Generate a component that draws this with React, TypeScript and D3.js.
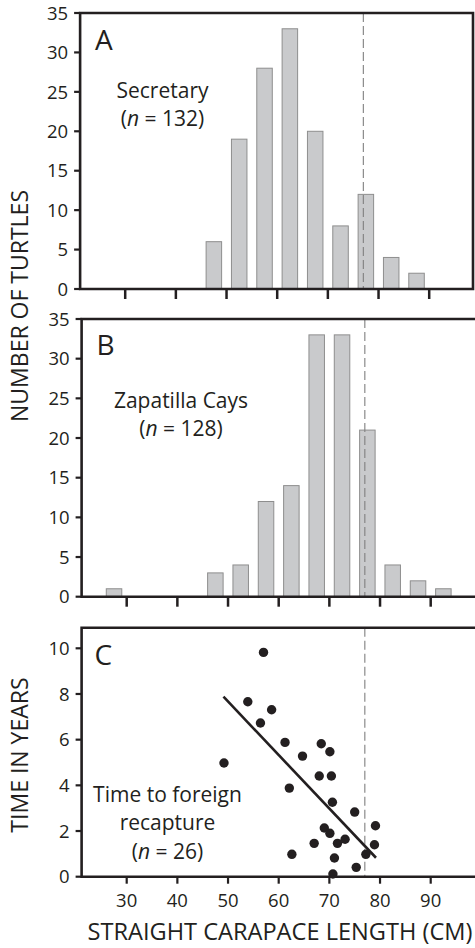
import * as d3 from 'd3';
import * as React from 'react';

const W = 475;
const H = 948;

// 5 cm size classes (bin centres)
const sizeBins = [27.5, 32.5, 37.5, 42.5, 47.5, 52.5, 57.5, 62.5, 67.5, 72.5, 77.5, 82.5, 87.5, 92.5];
const secretaryCounts = [0, 0, 0, 0, 6, 19, 28, 33, 20, 8, 12, 4, 2, 0];
const zapatillaCounts = [1, 0, 0, 0, 3, 4, 12, 14, 33, 33, 21, 4, 2, 1];

const lengthTicks = [30, 40, 50, 60, 70, 80, 90];
const countTicks = [0, 5, 10, 15, 20, 25, 30, 35];
const yearTicks = [0, 2, 4, 6, 8, 10];

// panel C: time to foreign recapture
const recapLength = [57.0, 53.9, 58.6, 56.4, 61.25, 68.4, 70.1, 64.7, 49.2, 68.0, 70.4, 62.1, 70.6,
  75.0, 79.1, 69.0, 70.1, 67.0, 71.6, 73.1, 78.9, 62.6, 77.2, 71.0, 75.3, 70.7];
const recapYears = [9.82, 7.66, 7.31, 6.73, 5.88, 5.82, 5.47, 5.28, 4.98, 4.41, 4.41, 3.88, 3.26,
  2.83, 2.23, 2.13, 1.9, 1.46, 1.46, 1.64, 1.4, 0.98, 0.98, 0.82, 0.41, 0.12];
const fitLength = [49.1, 79.2];
const fitYears = [7.88, 0.83];

const maturityLength = 77;

const ink = '#231f20';
const font = "'Open Sans', sans-serif";

const x = d3.scaleLinear().domain([30, 90]).range([126.7, 430.7]);

const barW = 15.5;

type HistProps = {
  dx: number;
  top: number;
  bottom: number;
  counts: number[];
  letter: string;
  letterY: number;
  title: string;
  n: number;
  titleX: number;
  titleY: number;
  closed: boolean;
};

const Histogram = ({ dx, top, bottom, counts, letter, letterY, title, n, titleX, titleY, closed }: HistProps) => {
  const y = d3.scaleLinear().domain([0, 35]).range([bottom, top]);
  const left = x(21.1);
  const right = closed ? 473 - dx : W + 5;
  return (
    <g transform={`translate(${dx},0)`}>
      {sizeBins.map((b, i) =>
        counts[i] > 0 ? (
          <rect
            key={b}
            x={x(b) - barW / 2}
            y={y(counts[i])}
            width={barW}
            height={y(0) - y(counts[i])}
            fill="#c9cacc"
            stroke="#8e8e8e"
            strokeWidth={1}
          />
        ) : null,
      )}
      <line x1={x(maturityLength)} x2={x(maturityLength)} y1={top} y2={bottom} stroke="#808080" strokeWidth={1.1} strokeDasharray="9,4" />
      <path
        d={closed ? `M${left},${bottom}V${top}H${right}V${bottom}Z` : `M${right},${top}H${left}V${bottom}H${right}`}
        fill="none"
        stroke={ink}
        strokeWidth={2.6}
      />
      {lengthTicks.map(t => (
        <line key={t} x1={x(t)} x2={x(t)} y1={bottom} y2={bottom + 10} stroke={ink} strokeWidth={2.5} />
      ))}
      {countTicks.map(t => (
        <g key={t}>
          <line x1={left - 6} x2={left} y1={y(t)} y2={y(t)} stroke={ink} strokeWidth={2.2} />
          <text x={left - 12} y={y(t)} dy="0.36em" textAnchor="end" fontSize={18.5} fill={ink} fontFamily={font}>
            {t}
          </text>
        </g>
      ))}
      <text x={left + 15} y={letterY} fontSize={28} fill={ink} fontFamily={font}>
        {letter}
      </text>
      <text x={titleX} y={titleY} textAnchor="middle" fontSize={21} fill={ink} fontFamily={font}>
        {title}
      </text>
      <text x={titleX} y={titleY + 28} textAnchor="middle" fontSize={21} fill={ink} fontFamily={font}>
        (<tspan fontStyle="italic">n</tspan> = {n})
      </text>
    </g>
  );
};

const Scatter = () => {
  const top = 627.7;
  const bottom = 876.7;
  const y = d3.scaleLinear().domain([0, 10]).range([bottom, 648.3]);
  const left = x(21.1);
  const right = W + 5;
  const fit = d3
    .line<number>()
    .x(d => x(d))
    .y((d, i) => y(fitYears[i]));
  return (
    <g>
      <line x1={x(maturityLength)} x2={x(maturityLength)} y1={top} y2={bottom} stroke="#808080" strokeWidth={1.1} strokeDasharray="9,4" />
      <path d={fit(fitLength) || ''} fill="none" stroke={ink} strokeWidth={2.6} />
      {recapLength.map((l, i) => (
        <circle key={i} cx={x(l)} cy={y(recapYears[i])} r={4.7} fill={ink} />
      ))}
      <path d={`M${right},${top}H${left}V${bottom}H${right}`} fill="none" stroke={ink} strokeWidth={2.6} />
      {lengthTicks.map(t => (
        <g key={t}>
          <line x1={x(t)} x2={x(t)} y1={bottom} y2={bottom + 7} stroke={ink} strokeWidth={2.2} />
          <text x={x(t)} y={907} textAnchor="middle" fontSize={18.5} fill={ink} fontFamily={font}>
            {t}
          </text>
        </g>
      ))}
      {yearTicks.map(t => (
        <g key={t}>
          <line x1={left - 6} x2={left} y1={y(t)} y2={y(t)} stroke={ink} strokeWidth={2.2} />
          <text x={left - 12} y={y(t)} dy="0.36em" textAnchor="end" fontSize={18.5} fill={ink} fontFamily={font}>
            {t}
          </text>
        </g>
      ))}
      <text x={left + 13} y={665} fontSize={28} fill={ink} fontFamily={font}>
        C
      </text>
      <text x={167.5} y={801.5} textAnchor="middle" fontSize={21} fill={ink} fontFamily={font}>
        Time to foreign
      </text>
      <text x={167.5} y={830} textAnchor="middle" fontSize={21} fill={ink} fontFamily={font}>
        recapture
      </text>
      <text x={167.5} y={859} textAnchor="middle" fontSize={21} fill={ink} fontFamily={font}>
        (<tspan fontStyle="italic">n</tspan> = 26)
      </text>
    </g>
  );
};

export default function App() {
  return (
    <svg width={W} height={H} viewBox={`0 0 ${W} ${H}`} style={{ position: 'absolute', left: 0, top: 0, background: '#fff' }}>
      <Histogram dx={-1.5} top={13} bottom={289} counts={secretaryCounts} letter="A" letterY={50}
        title="Secretary" n={132} titleX={164} titleY={98} closed />
      <Histogram dx={0} top={319} bottom={596.7} counts={zapatillaCounts} letter="B" letterY={355}
        title="Zapatilla Cays" n={128} titleX={181} titleY={408} closed={false} />
      <Scatter />
      <text transform="translate(28,306) rotate(-90)" textAnchor="middle" fontSize={23} fill={ink} fontFamily={font}>
        NUMBER OF TURTLES
      </text>
      <text transform="translate(28,755) rotate(-90)" textAnchor="middle" fontSize={23} fill={ink} fontFamily={font}>
        TIME IN YEARS
      </text>
      <text x={280} y={940} textAnchor="middle" fontSize={23.6} fill={ink} fontFamily={font}>
        STRAIGHT CARAPACE LENGTH (CM)
      </text>
    </svg>
  );
}
